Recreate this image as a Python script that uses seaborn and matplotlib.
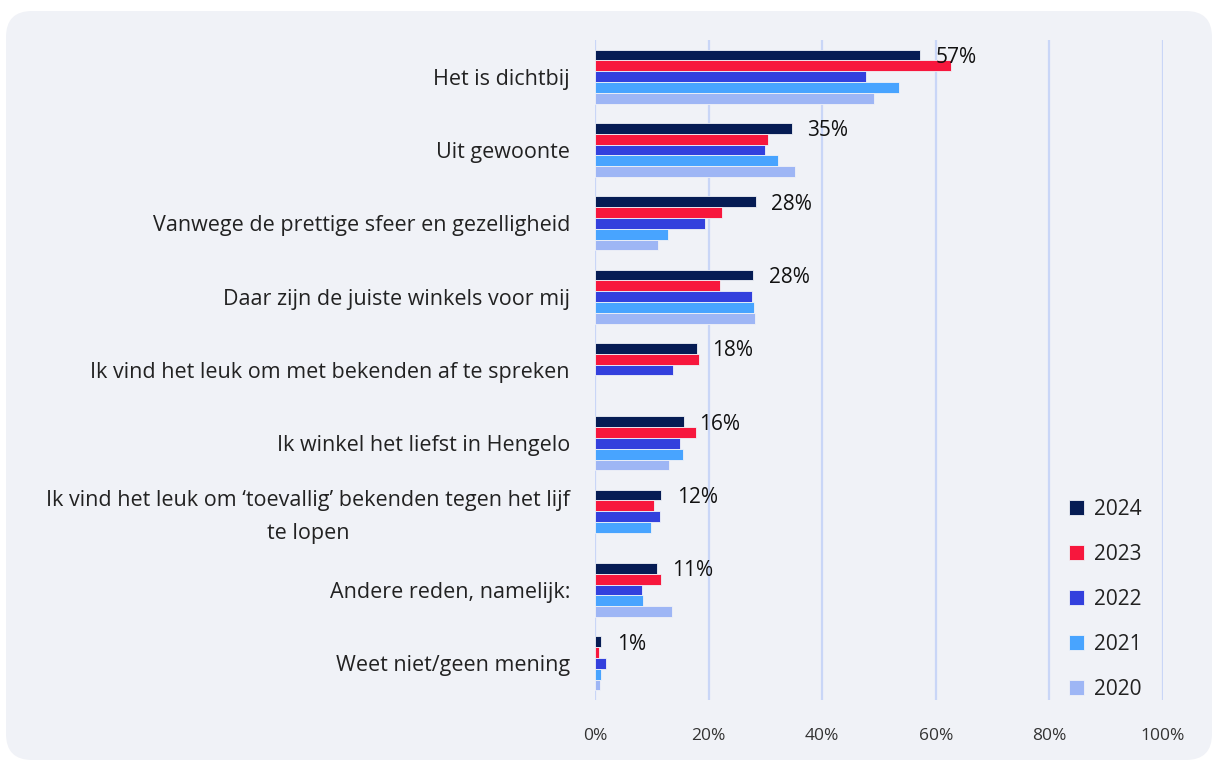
import matplotlib.pyplot as plt
import numpy as np
import pandas as pd
import seaborn as sns
from matplotlib.patches import FancyBboxPatch

# Reasons (answer options) and the share per year, in percent
categories = [
    "Het is dichtbij",
    "Uit gewoonte",
    "Vanwege de prettige sfeer en gezelligheid",
    "Daar zijn de juiste winkels voor mij",
    "Ik vind het leuk om met bekenden af te spreken",
    "Ik winkel het liefst in Hengelo",
    "Ik vind het leuk om \u2018toevallig\u2019 bekenden tegen het lijf\nte lopen",
    "Andere reden, namelijk:",
    "Weet niet/geen mening",
]
years = ["2024", "2023", "2022", "2021", "2020"]
v2024 = [57.2, 34.6, 28.3, 27.9, 17.9, 15.6, 11.7, 10.9, 1.1]
v2023 = [62.7, 30.5, 22.4, 22.0, 18.3, 17.8, 10.4, 11.6, 0.7]
v2022 = [47.7, 30.0, 19.4, 27.6, 13.8, 15.0, 11.4, 8.3, 1.9]
v2021 = [53.6, 32.3, 12.8, 28.0, np.nan, 15.5, 9.9, 8.5, 1.0]
v2020 = [49.2, 35.2, 11.1, 28.1, np.nan, 13.1, np.nan, 13.6, 0.9]
colors = ["#061C54", "#F7173D", "#3340DD", "#48A4FF", "#9EB6F5"]

rows = []
for year, vals in zip(years, [v2024, v2023, v2022, v2021, v2020]):
    for cat, v in zip(categories, vals):
        rows.append({"reden": cat, "jaar": year, "waarde": v})
df = pd.DataFrame(rows)

bg = "#F0F2F7"
fig = plt.figure(figsize=(12.12, 7.6), dpi=100, facecolor="white")
fig.add_artist(FancyBboxPatch((6, 0), 1206, 749, boxstyle="round,pad=0,rounding_size=26",
                              transform=None, facecolor=bg, edgecolor="none", zorder=-10))
ax = fig.add_axes([595 / 1212, 1 - 700 / 760, (1163 - 595) / 1212, (700 - 40) / 760])
ax.set_facecolor("none")

sns.barplot(data=df, y="reden", x="waarde", hue="jaar", order=categories,
            hue_order=years, palette=colors, saturation=1, orient="h", width=0.74,
            edgecolor=bg, linewidth=0.6, ax=ax, zorder=3)

ax.set_xlim(0, 100)
ax.set_ylim(len(categories) - 0.5, -0.5)
ax.set_xticks(range(0, 101, 20))
ax.set_xticklabels([f"{t}%" for t in range(0, 101, 20)])
ax.grid(axis="x", color="#C9D6F7", linewidth=1.6, zorder=0)
ax.grid(axis="y", visible=False)
for s in ax.spines.values():
    s.set_visible(False)
ax.set_xlabel("")
ax.set_ylabel("")

font = ["Open Sans", "DejaVu Sans"]
ax.tick_params(axis="y", length=0, pad=18, labelsize=15.5, labelcolor="#222222")
ax.tick_params(axis="x", length=0, pad=20, labelsize=12.5, labelcolor="#333333")
for lab in ax.get_yticklabels():
    lab.set_family(font)
    lab.set_multialignment("center")
    if "\n" in lab.get_text():
        lab.set_linespacing(1.75)
        lab.set_va("center")
for lab in ax.get_xticklabels():
    lab.set_family(font)

# value labels for 2024
for i, v in enumerate(v2024):
    ax.text(v + 2.7, i - 0.26, f"{round(v)}%", va="center", ha="left",
            fontsize=15, color="#111111", family=font, fontweight="medium")

sns.move_legend(ax, "upper left", bbox_to_anchor=(1050 / 1212, 1 - 480 / 760),
                bbox_transform=fig.transFigure, frameon=False, title=None,
                handlelength=0.72, handleheight=0.72, handletextpad=0.5,
                labelspacing=1.15, prop={"family": font, "size": 15})
for t in ax.get_legend().get_texts():
    t.set_color("#222222")

fig.savefig("out.png", dpi=100, facecolor="white")
